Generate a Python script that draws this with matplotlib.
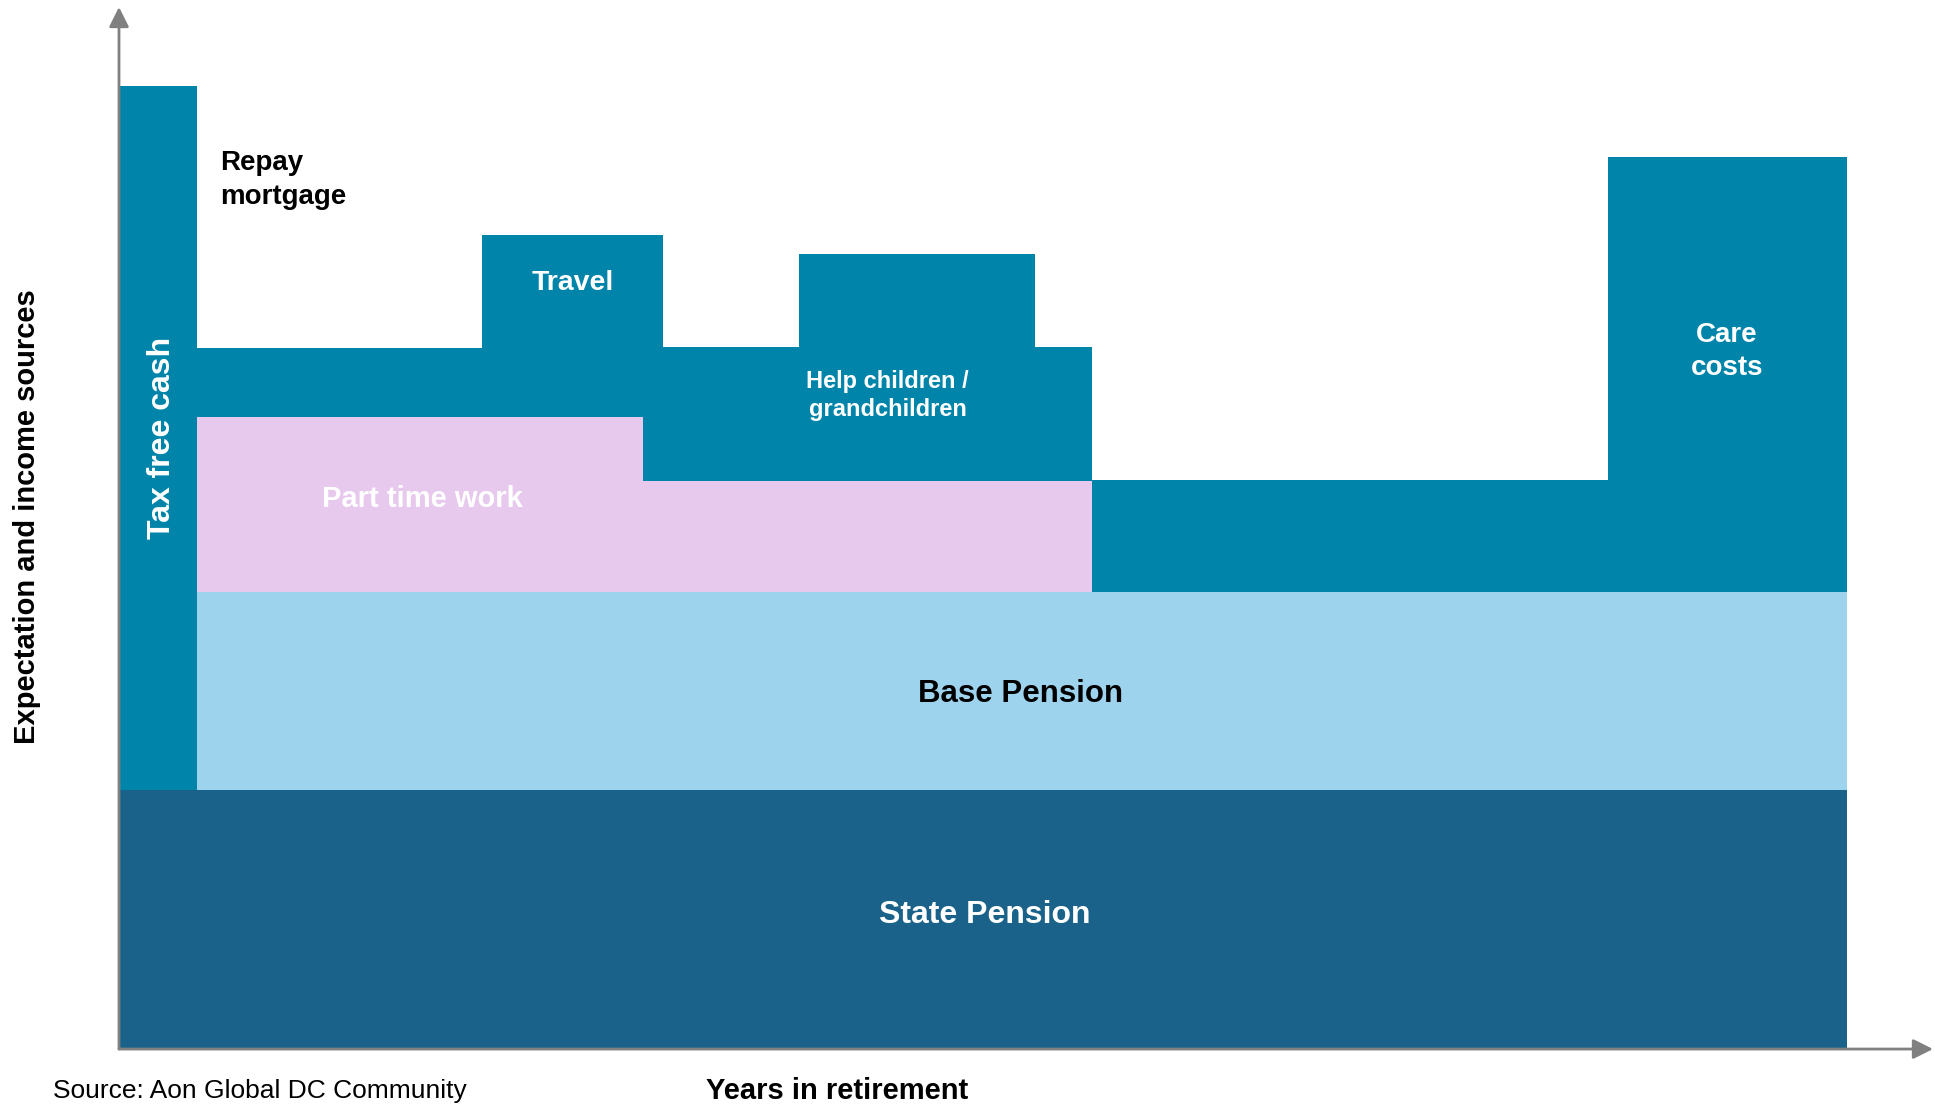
import matplotlib
matplotlib.use("Agg")
import matplotlib.pyplot as plt

plt.rcParams["font.family"] = ["Liberation Sans", "DejaVu Sans"]

# ---- data (years in retirement, arbitrary income units) ----
year_edges = [0, 1.35, 6.3, 9.1, 9.45, 11.8, 15.9, 16.9, 25.85, 30]
state_pension = 24.8
tax_free_cash = 67.6          # lump sum in the first period only
base_pension = 19.0           # every period after the lump sum
part_time_work = [16.8, 16.8, 10.7, 10.7, 10.7, 10.7, 0, 0]
expectation = [67.2, 78.1, 78.1, 67.3, 76.3, 67.3, 54.6, 85.6]

labels = {
    "state": "State Pension",
    "base": "Base Pension",
    "part": "Part time work",
    "tfc": "Tax free cash",
    "mortgage": "Repay\nmortgage",
    "travel": "Travel",
    "help": "Help children /\ngrandchildren",
    "care": "Care\ncosts",
}

C_STATE = "#1A6289"
C_TEAL = "#0084A9"
C_BASE = "#9ED3EE"
C_PART = "#E7C9EE"
C_AXIS = "#808080"

W, H = 1935, 1105
fig = plt.figure(figsize=(W / 100, H / 100), dpi=100)
ax = fig.add_axes([119 / W, (H - 1048) / H, (1933 - 119) / W, (1048 - 7) / H])
ax.set_xlim(0, 31.5)
ax.set_ylim(0, 100)
ax.axis("off")

x_end = year_edges[-1]
# state pension across the whole retirement
ax.bar(0, state_pension, width=x_end, align="edge", color=C_STATE, linewidth=0)
# tax free cash lump sum
ax.bar(year_edges[0], tax_free_cash, width=year_edges[1] - year_edges[0],
       bottom=state_pension, align="edge", color=C_TEAL, linewidth=0)

lefts = year_edges[1:-1]
widths = [b - a for a, b in zip(year_edges[1:-1], year_edges[2:])]
ax.bar(lefts, [base_pension] * len(lefts), width=widths, bottom=state_pension,
       align="edge", color=C_BASE, linewidth=0)
income_top = state_pension + base_pension
ax.bar(lefts, part_time_work, width=widths, bottom=income_top,
       align="edge", color=C_PART, linewidth=0)
gap_bottom = [income_top + p for p in part_time_work]
gap = [e - b for e, b in zip(expectation, gap_bottom)]
ax.bar(lefts, gap, width=widths, bottom=gap_bottom,
       align="edge", color=C_TEAL, linewidth=0)

# axes drawn as arrows
arrow = dict(arrowstyle="-|>,head_length=0.6,head_width=0.3", color=C_AXIS,
             lw=2.0, shrinkA=0, shrinkB=0, mutation_scale=20)
ax.annotate("", xy=(0, 100), xytext=(0, -0.1), arrowprops=arrow,
            annotation_clip=False)
ax.annotate("", xy=(31.5, -0.1), xytext=(0, -0.1), arrowprops=arrow,
            annotation_clip=False)

bold = dict(fontweight="bold")
ax.text(15.03, 12.75, labels["state"], color="white", fontsize=23,
        ha="center", va="center", **bold)
ax.text(15.65, 34.05, labels["base"], color="black", fontsize=22.5,
        ha="center", va="center", **bold)
ax.text(5.26, 52.75, labels["part"], color="white", fontsize=21,
        ha="center", va="center", **bold)
ax.text(0.74, 58.6, labels["tfc"], color="white", fontsize=23,
        ha="center", va="center", rotation=90, **bold)
ax.text(1.75, 83.35, labels["mortgage"], color="black", fontsize=20,
        ha="left", va="center", linespacing=1.4, **bold)
ax.text((year_edges[2] + year_edges[4]) / 2, 73.45, labels["travel"],
        color="white", fontsize=20.5, ha="center", va="center", **bold)
ax.text(13.35, 62.7, labels["help"], color="white", fontsize=17,
        ha="center", va="center", linespacing=1.25, multialignment="center",
        **bold)
ax.text((year_edges[-2] + year_edges[-1]) / 2, 66.95, labels["care"],
        color="white", fontsize=20, ha="center", va="center",
        linespacing=1.35, multialignment="center", **bold)

fig.text(27 / W, 1 - 517 / H, "Expectation and income sources", rotation=90,
         fontsize=21, ha="center", va="center", **bold)
fig.text(837 / W, 1 - 1091 / H, "Years in retirement", fontsize=21,
         ha="center", va="center", **bold)
fig.text(53 / W, 1 - 1091 / H, "Source: Aon Global DC Community", fontsize=19,
         ha="left", va="center")

fig.savefig("out.png", dpi=100)
